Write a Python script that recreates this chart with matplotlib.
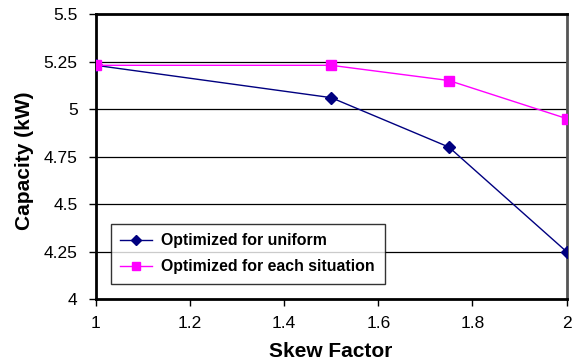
import numpy as np
import matplotlib
matplotlib.use('Agg')
import matplotlib.pyplot as plt

plt.rcParams['font.family'] = ['Liberation Sans', 'DejaVu Sans']

# capacity vs skew factor for the two optimisation strategies
skew = [1.0, 1.5, 1.75, 2.0]
cap_uniform = [5.23, 5.06, 4.80, 4.25]
cap_each = [5.23, 5.23, 5.15, 4.95]
yticks = [4, 4.25, 4.5, 4.75, 5, 5.25, 5.5]
ylabels = ['4', '4.25', '4.5', '4.75', '5', '5.25', '5.5']
xticks = [1, 1.2, 1.4, 1.6, 1.8, 2]

fig = plt.figure(figsize=(5.8, 3.64), dpi=100)
ax = fig.add_axes([0.165, 0.1777, 0.812, 0.784])

for y in yticks[1:-1]:
    ax.axhline(y, color='black', lw=0.9, zorder=1)

ax.plot(skew, cap_uniform, color='#000080', lw=1.0, marker='D', ms=6,
        label='Optimized for uniform', zorder=3)
ax.plot(skew, cap_each, color='#FF00FF', lw=1.0, marker='s', ms=7,
        label='Optimized for each situation', zorder=3)

ax.set_xlim(1, 2)
ax.set_ylim(4, 5.5)
ax.set_xticks(xticks)
ax.set_xticklabels(['1', '1.2', '1.4', '1.6', '1.8', '2'])
ax.set_yticks(yticks)
ax.set_yticklabels(ylabels)
ax.tick_params(direction='out', length=5, width=1, labelsize=12.5)
ax.tick_params(axis='y', pad=8)
ax.tick_params(axis='x', pad=7)

for s in ['left', 'bottom', 'top']:
    ax.spines[s].set_linewidth(2)
    ax.spines[s].set_color('black')
ax.spines['right'].set_linewidth(2)
ax.spines['right'].set_color('#555555')

ax.set_xlabel('Skew Factor', fontsize=15, fontweight='bold', labelpad=8)
ax.set_ylabel('Capacity (kW)', fontsize=15, fontweight='bold')
ax.yaxis.set_label_coords(-0.13, 0.485)

leg = ax.legend(loc='lower left', bbox_to_anchor=(0.032, 0.054),
                prop={'weight': 'bold', 'size': 11.4}, frameon=True, fancybox=False,
                borderaxespad=0, handlelength=2.0, labelspacing=0.7,
                borderpad=0.6, handletextpad=0.6, markerscale=0.8)
leg.get_frame().set_edgecolor('black')
leg.get_frame().set_linewidth(1)

fig.savefig('out.png', dpi=100)
